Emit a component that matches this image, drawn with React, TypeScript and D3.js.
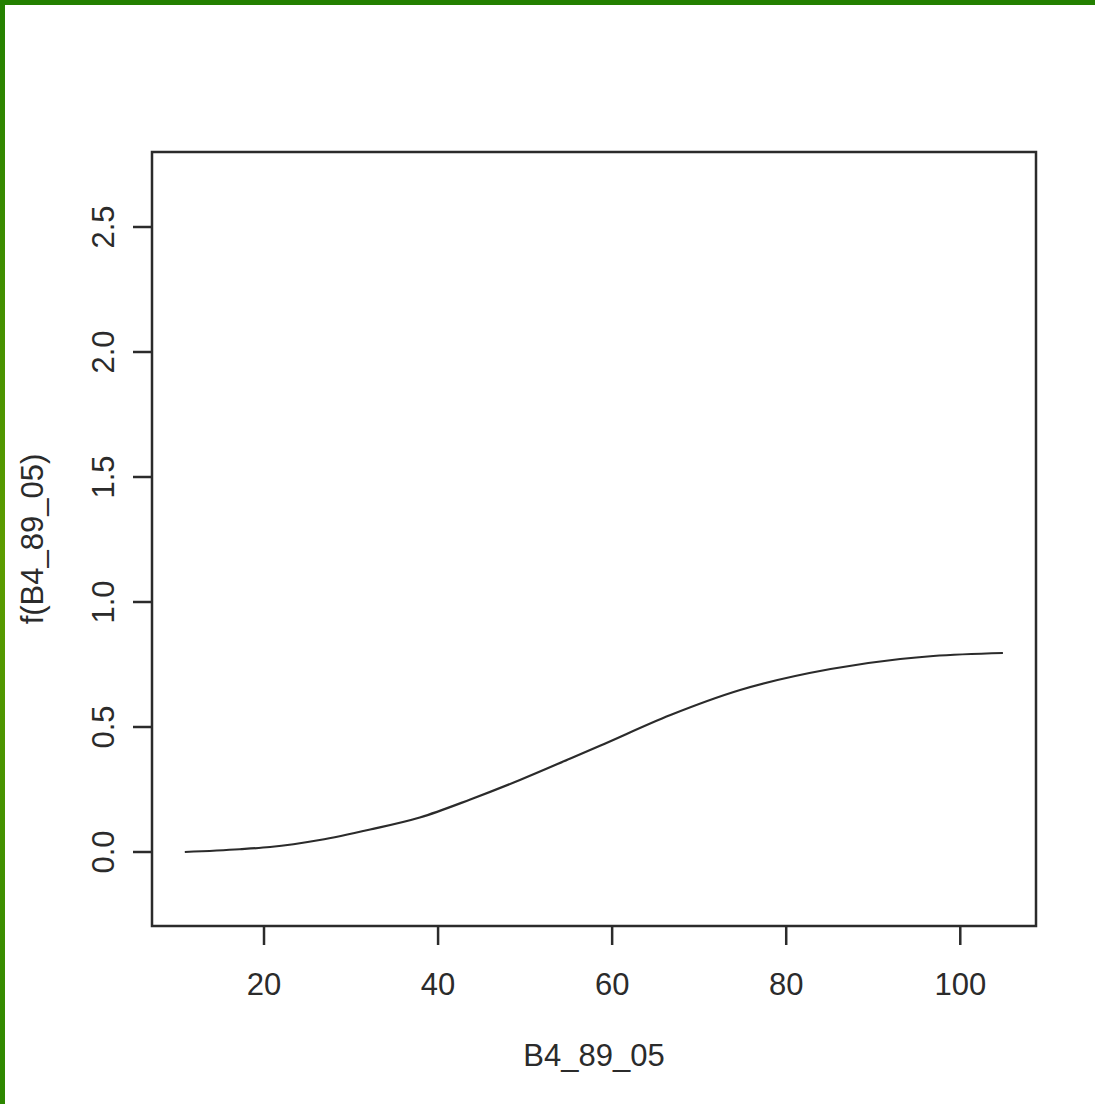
import React from "react";
import * as d3 from "d3";

const curveX = [10.9, 17.2, 20.7, 26.4, 32.2, 37.9, 43.7, 49.4, 55.2, 58.6, 66.7, 74.7, 85.1, 93.1, 96.9, 104.9];
const curveY = [0.0, 0.011, 0.02, 0.048, 0.09, 0.138, 0.21, 0.288, 0.374, 0.425, 0.548, 0.648, 0.732, 0.772, 0.784, 0.796];
const xTicks = [20, 40, 60, 80, 100];
const yTicks = [0.0, 0.5, 1.0, 1.5, 2.0, 2.5];
const xLabel = "B4_89_05";
const yLabel = "f(B4_89_05)";

const W = 1095;
const H = 1104;
const box = { left: 152, top: 152, right: 1036, bottom: 926 };

export default function App() {
  const x = d3.scaleLinear().domain([7.13, 108.7]).range([box.left, box.right]);
  const y = d3.scaleLinear().domain([-0.296, 2.8]).range([box.bottom, box.top]);
  const pts: [number, number][] = curveX.map((v, i) => [v, curveY[i]]);
  const line = d3
    .line<[number, number]>()
    .x((d) => x(d[0]))
    .y((d) => y(d[1]))
    .curve(d3.curveMonotoneX);
  const ink = "#2b2b2b";
  const font = "'Liberation Sans', Arial, sans-serif";
  const fs = 31;
  return (
    <svg
      width={W}
      height={H}
      style={{ position: "absolute", left: 0, top: 0, background: "#fff" }}
    >
      <defs>
        <linearGradient id="leftGreen" x1="0" y1="0" x2="0" y2="1">
          <stop offset="0%" stopColor="#238000" />
          <stop offset="50%" stopColor="#5c9c00" />
          <stop offset="100%" stopColor="#2c8700" />
        </linearGradient>
      </defs>
      <rect x={0} y={0} width={W} height={H} fill="#fff" />
      <rect x={0} y={0} width={5} height={H} fill="url(#leftGreen)" />
      <rect x={0} y={0} width={W} height={5} fill="#238000" />

      <rect
        x={box.left}
        y={box.top}
        width={box.right - box.left}
        height={box.bottom - box.top}
        fill="none"
        stroke={ink}
        strokeWidth={2.5}
      />

      {xTicks.map((t) => (
        <g key={"x" + t}>
          <line x1={x(t)} x2={x(t)} y1={box.bottom} y2={box.bottom + 19} stroke={ink} strokeWidth={2.5} />
          <text x={x(t)} y={995} textAnchor="middle" fontFamily={font} fontSize={fs} fill={ink}>
            {String(t)}
          </text>
        </g>
      ))}
      {yTicks.map((t) => (
        <g key={"y" + t}>
          <line x1={box.left - 19} x2={box.left} y1={y(t)} y2={y(t)} stroke={ink} strokeWidth={2.5} />
          <text
            transform={`translate(114,${y(t)}) rotate(-90)`}
            textAnchor="middle"
            fontFamily={font}
            fontSize={fs}
            fill={ink}
          >
            {t.toFixed(1)}
          </text>
        </g>
      ))}

      <text x={(box.left + box.right) / 2} y={1066} textAnchor="middle" fontFamily={font} fontSize={fs} fill={ink}>
        {xLabel}
      </text>
      <text
        transform={`translate(43,${(box.top + box.bottom) / 2}) rotate(-90)`}
        textAnchor="middle"
        fontFamily={font}
        fontSize={fs}
        fill={ink}
      >
        {yLabel}
      </text>

      <path d={line(pts) || ""} fill="none" stroke={ink} strokeWidth={2.2} />
    </svg>
  );
}
